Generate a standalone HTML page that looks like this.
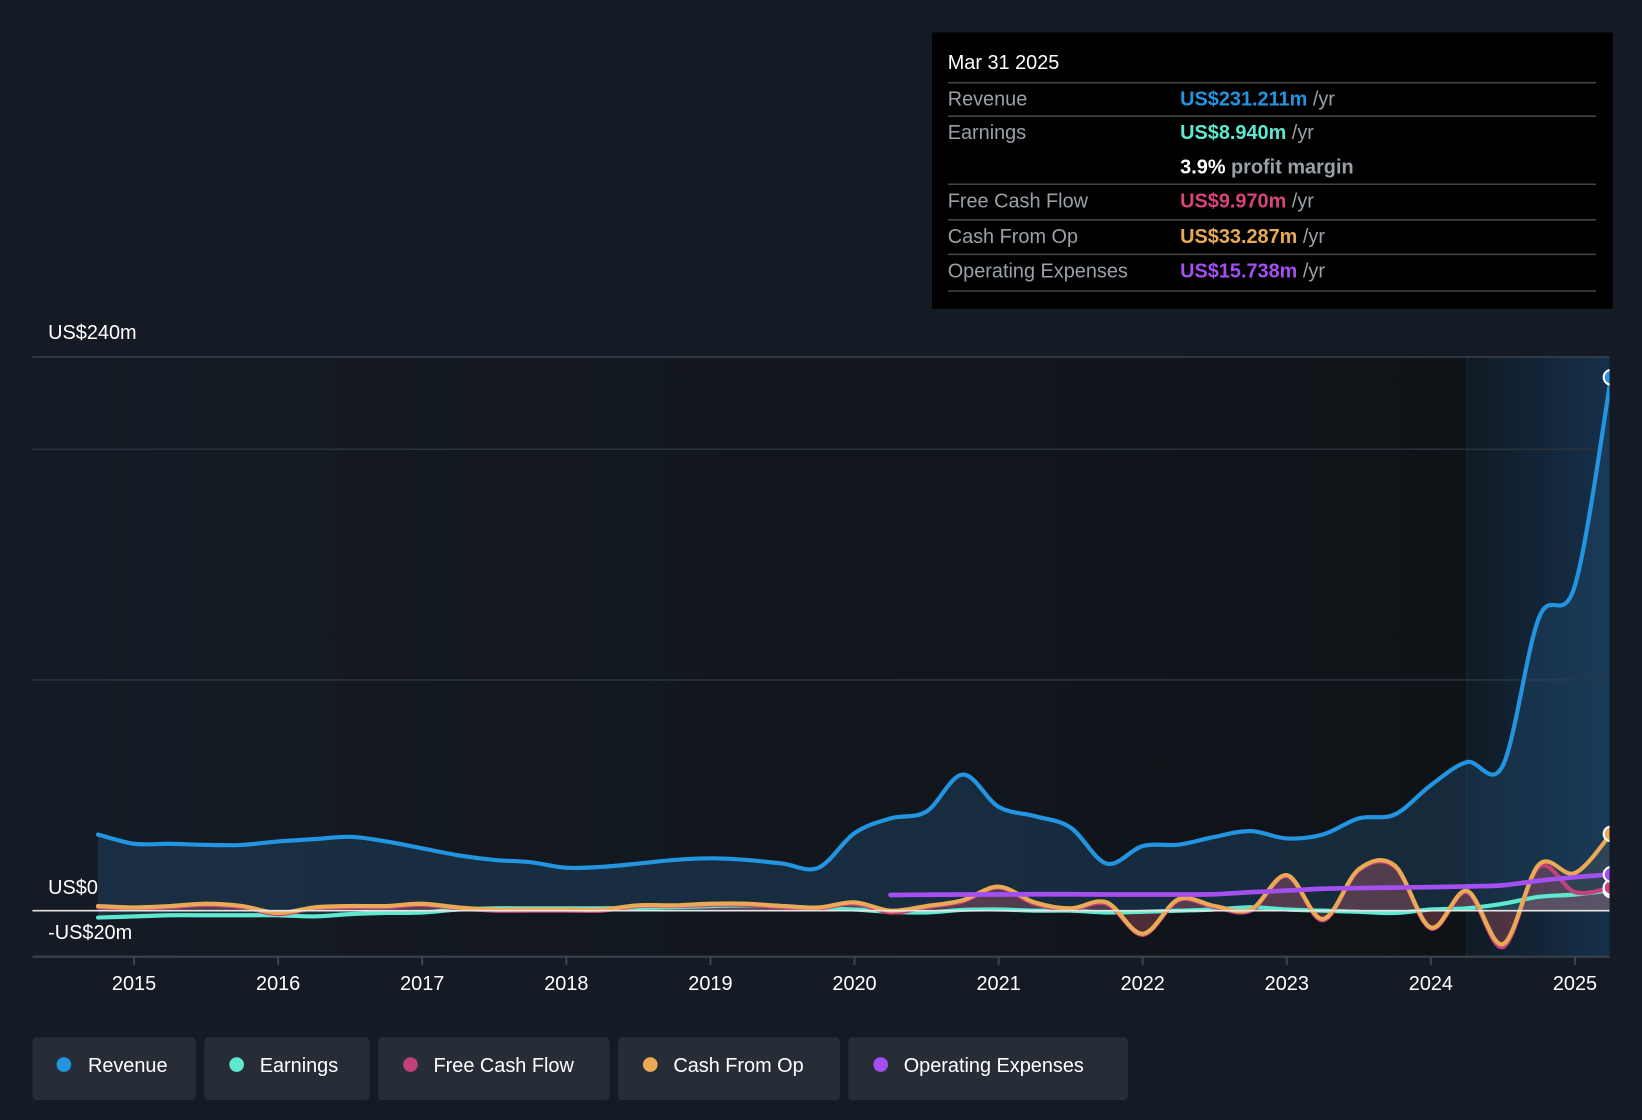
<!DOCTYPE html>
<html><head><meta charset="utf-8"><style>
html,body{margin:0;padding:0;background:#151b24;overflow:hidden}
svg{display:block;font-family:"Liberation Sans",sans-serif}
</style></head><body>
<svg id="chart" width="1642" height="1120" viewBox="0 0 1568 1070" preserveAspectRatio="none" xmlns="http://www.w3.org/2000/svg">
<rect x="0" y="0" width="1568" height="1070" fill="#151b24"/>
<defs>
<linearGradient id="plotbg" x1="0" x2="1" y1="0" y2="0">
<stop offset="0" stop-color="#151b24"/><stop offset="1" stop-color="#0f1318"/>
</linearGradient>
<linearGradient id="hlbg" x1="0" x2="1" y1="0" y2="0">
<stop offset="0" stop-color="#101a24"/><stop offset="1" stop-color="#15304a"/>
</linearGradient>
</defs>
<rect x="31" y="341" width="1370" height="573" fill="url(#plotbg)"/>
<rect x="1401" y="341" width="136" height="573" fill="url(#hlbg)"/>
<line x1="1401" y1="341" x2="1401" y2="914" stroke="#1e2e3e" stroke-width="1"/>
<g id="grid"></g>
<g id="areas"></g>
<g id="lines"></g>
<g id="xaxis"></g>
<text x="46" y="324" fill="#ffffff" font-size="19">US$240m</text>
<text x="46" y="854" fill="#ffffff" font-size="19">US$0</text>
<text x="46" y="897" fill="#ffffff" font-size="19">-US$20m</text>

<g>
<rect x="890" y="31" width="650" height="264" fill="#000000"/>
<text x="905" y="66" fill="#ffffff" font-size="19">Mar 31 2025</text>
<line x1="905" y1="79" x2="1524" y2="79" stroke="#444" stroke-width="1.5"/>
<text x="905" y="101" fill="#9aa0a8" font-size="19">Revenue</text>
<text x="1127" y="101" font-size="19" font-weight="bold" fill="#2394e0">US$231.211m <tspan fill="#9aa0a8" font-weight="normal">/yr</tspan></text>
<line x1="905" y1="111" x2="1524" y2="111" stroke="#444" stroke-width="1.5"/>
<text x="905" y="133" fill="#9aa0a8" font-size="19">Earnings</text>
<text x="1127" y="133" font-size="19" font-weight="bold" fill="#5ee8cf">US$8.940m <tspan fill="#9aa0a8" font-weight="normal">/yr</tspan></text>
<text x="1127" y="166" font-size="19" font-weight="bold" fill="#ffffff">3.9% <tspan fill="#9aa0a8">profit margin</tspan></text>
<line x1="905" y1="176" x2="1524" y2="176" stroke="#444" stroke-width="1.5"/>
<text x="905" y="198" fill="#9aa0a8" font-size="19">Free Cash Flow</text>
<text x="1127" y="198" font-size="19" font-weight="bold" fill="#d9447c">US$9.970m <tspan fill="#9aa0a8" font-weight="normal">/yr</tspan></text>
<line x1="905" y1="210" x2="1524" y2="210" stroke="#444" stroke-width="1.5"/>
<text x="905" y="232" fill="#9aa0a8" font-size="19">Cash From Op</text>
<text x="1127" y="232" font-size="19" font-weight="bold" fill="#eaaa55">US$33.287m <tspan fill="#9aa0a8" font-weight="normal">/yr</tspan></text>
<line x1="905" y1="243" x2="1524" y2="243" stroke="#444" stroke-width="1.5"/>
<text x="905" y="265" fill="#9aa0a8" font-size="19">Operating Expenses</text>
<text x="1127" y="265" font-size="19" font-weight="bold" fill="#a44ff0">US$15.738m <tspan fill="#9aa0a8" font-weight="normal">/yr</tspan></text>
<line x1="905" y1="278" x2="1524" y2="278" stroke="#444" stroke-width="1.5"/>
</g>

<g>
<g><rect x="31" y="991" width="156" height="60" rx="4" fill="#272d37"/><circle cx="61" cy="1017" r="7" fill="#2394e0"/><text x="84" y="1024" fill="#fff" font-size="19">Revenue</text></g>
<g><rect x="195" y="991" width="158" height="60" rx="4" fill="#272d37"/><circle cx="226" cy="1017" r="7" fill="#5ee8cf"/><text x="248" y="1024" fill="#fff" font-size="19">Earnings</text></g>
<g><rect x="361" y="991" width="221" height="60" rx="4" fill="#272d37"/><circle cx="392" cy="1017" r="7" fill="#c2417a"/><text x="414" y="1024" fill="#fff" font-size="19">Free Cash Flow</text></g>
<g><rect x="590" y="991" width="212" height="60" rx="4" fill="#272d37"/><circle cx="621" cy="1017" r="7" fill="#eaaa55"/><text x="643" y="1024" fill="#fff" font-size="19">Cash From Op</text></g>
<g><rect x="810" y="991" width="267" height="60" rx="4" fill="#272d37"/><circle cx="841" cy="1017" r="7" fill="#a44ff0"/><text x="863" y="1024" fill="#fff" font-size="19">Operating Expenses</text></g>
</g>
</svg>
<script>
const years = [2015,2016,2017,2018,2019,2020,2021,2022,2023,2024,2025];
const gridValues = [240,200,100];
const revenue = [33,29,29,28.5,28.5,30,31,32,30,27,24,22,21,18.6,19,20.4,22,22.7,22,20.4,18.6,33.6,40,43,59,45,41,36,20.4,28,28.6,32,34.5,31.3,33,40,41.7,54.4,64.4,63,127,141,231.2];
const cashFromOp = [2,1.4,2,3,2,-1,1.4,2,2,3,1.4,0.5,0.5,0.5,0.5,2.3,2.3,3,3,2,1.4,3.6,0,2,4.5,10.4,3.6,1,3.6,-10,5,2,0.5,15.4,-3.6,18,19.5,-7.3,8.6,-14.5,20,16.3,33.3];
const freeCashFlow = [1.5,1,1.5,2.5,1.5,-1.5,1,1.5,1.5,2.5,1,0,0,0,0,2,2,2.5,2.5,1.5,1,3,-0.8,1.5,4,10,3,0.5,3,-10.5,4.5,1.5,0,15,-4.2,17.5,19,-7.8,8,-15.8,19,8,10];
const earnings = [-3,-2.5,-2,-2,-2,-2,-2.5,-1.5,-1,-0.8,0.5,1,1,1,1,1.2,1.5,2,2.3,2,1,0.5,-0.5,-0.8,0.3,0.5,0,0,-0.8,-0.5,0,0.5,1.5,0.5,0,-0.5,-1,0.5,1,3,6,7,8.9];
const opexStart = 2020.25;
const opex = [6.8,6.9,7,7,7.1,7.1,7,7,7,7.1,8,8.7,9.5,9.8,10,10.2,10.5,11,13,14.5,15.7];
const startYear = 2014.75, step = 0.25;

const X = y => 128 + (y - 2015) * 137.6;
const Y = v => 870 - v * 2.204;
const NS = 'http://www.w3.org/2000/svg';
function mk(tag, attrs, parent){const e=document.createElementNS(NS,tag);for(const k in attrs)e.setAttribute(k,attrs[k]);parent.appendChild(e);return e;}
function pts(arr, start){return arr.map((v,i)=>[X(start+i*step),Y(v)]);}
function smooth(p){let d='M'+p[0][0]+','+p[0][1];for(let i=0;i<p.length-1;i++){const p0=p[i-1]||p[i],p1=p[i],p2=p[i+1],p3=p[i+2]||p2;const t=6;d+=' C'+(p1[0]+(p2[0]-p0[0])/t)+','+(p1[1]+(p2[1]-p0[1])/t)+' '+(p2[0]-(p3[0]-p1[0])/t)+','+(p2[1]-(p3[1]-p1[1])/t)+' '+p2[0]+','+p2[1];}return d;}

const grid=document.getElementById('grid');
gridValues.forEach(v=>{const l=mk('line',{x1:31,x2:1537,y1:Y(v),y2:Y(v),stroke:v===240?'#3a424d':'#2a323c','stroke-width':1.5},grid);

});
const bl=mk('line',{x1:31,x2:1537,y1:914,y2:914,stroke:'#3a424d','stroke-width':2},grid);



const xa=document.getElementById('xaxis');
years.forEach(y=>{mk('line',{x1:X(y),x2:X(y),y1:914,y2:922,stroke:'#3a424d','stroke-width':2},xa);
const t=mk('text',{x:X(y),y:946,fill:'#fff','font-size':19,'text-anchor':'middle'},xa);t.textContent=y;

});

const areas=document.getElementById('areas'), lines=document.getElementById('lines');
function series(name,arr,start,color,fillColor,fillOp,width){
  const p=pts(arr,start);const d=smooth(p);
  if(fillColor){const a=mk('path',{d:d+' L'+p[p.length-1][0]+','+Y(0)+' L'+p[0][0]+','+Y(0)+' Z',fill:fillColor,'fill-opacity':fillOp},areas);
  
  }
  const l=mk('path',{d:d,fill:'none',stroke:color,'stroke-width':width,'stroke-linecap':'round'},lines);
  
  
  return p[p.length-1];
}
const ends=[];
ends.push([series('revenue',revenue,startYear,'#2394e0','#1f4668',0.45,4),'#2394e0']);
ends.push([series('earnings',earnings,startYear,'#5ee8cf','#5ee8cf',0.12,4),'#8fb7c8']);
ends.push([series('free-cash-flow',freeCashFlow,startYear,'#c2417a','#c2417a',0.25,4),'#c2417a']);
ends.push([series('cash-from-op',cashFromOp,startYear,'#eaaa55','#eaaa55',0.1,4),'#eaaa55']);
ends.push([series('operating-expenses',opex,opexStart,'#a44ff0',null,0,4.5),'#a44ff0']);
mk('line',{x1:31,x2:1537,y1:Y(0),y2:Y(0),stroke:'#e6e6e6','stroke-width':1.5},lines);
ends.forEach(([p,c])=>{const d=mk('circle',{cx:p[0],cy:p[1],r:7,fill:c,stroke:'#fff','stroke-width':2},lines);

});
mk('rect',{x:1537,y:330,width:31,height:600,fill:'#151b24'},lines);
</script>
</body></html>
